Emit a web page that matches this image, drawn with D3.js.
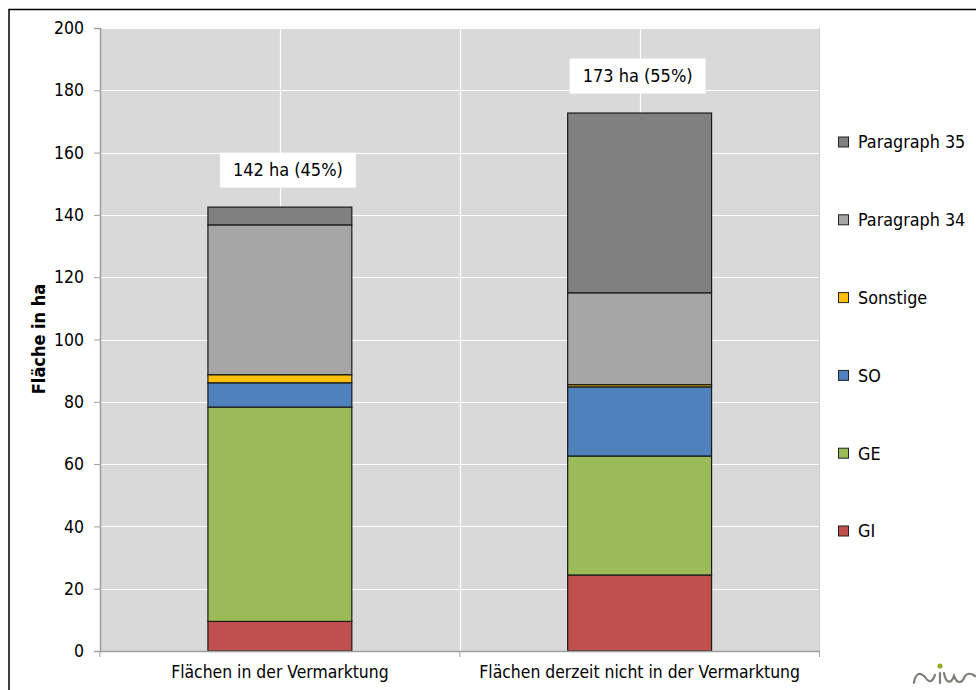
<!DOCTYPE html>
<html><head><meta charset="utf-8">
<script src="https://cdn.jsdelivr.net/npm/d3@7"></script>
<style>
html,body{margin:0;padding:0;background:#fff;}
svg{display:block;font-family:"DejaVu Sans Condensed","DejaVu Sans",sans-serif;}
</style></head>
<body><svg id="c" width="976" height="690"></svg>
<script>
const categories = ["Flächen in der Vermarktung", "Flächen derzeit nicht in der Vermarktung"];
const seriesNames = ["GI", "GE", "SO", "Sonstige", "Paragraph 34", "Paragraph 35"];
const seriesColors = ["#c0504d", "#9bbb59", "#4f81bd", "#ffc000", "#a6a6a6", "#808080"];
const GI = [9.5, 24.4];
const GE = [68.8, 38.2];
const SO = [7.8, 22.2];
const Sonstige = [2.6, 0.7];
const Paragraph34 = [48.1, 29.5];
const Paragraph35 = [5.7, 57.7];
const totalLabels = ["142 ha (45%)", "173 ha (55%)"];
const yTicks = [0, 20, 40, 60, 80, 100, 120, 140, 160, 180, 200];
const yTitle = "Fläche in ha";

const seriesValues = [GI, GE, SO, Sonstige, Paragraph34, Paragraph35];
const table = categories.map((c, i) => {
  const o = {cat: c};
  seriesNames.forEach((s, j) => o[s] = seriesValues[j][i]);
  return o;
});
const stacked = d3.stack().keys(seriesNames)(table);

const svg = d3.select("#c");
const L = 100, R = 819.5, T = 28, B = 651;

// outer frame
svg.append("rect").attr("x", 9).attr("y", 9.5).attr("width", 1100).attr("height", 1000)
  .attr("fill", "none").attr("stroke", "#000").attr("stroke-width", 1.5);

const x = d3.scaleBand().domain(categories).range([L, R]).paddingInner(0).paddingOuter(0);
const y = d3.scaleLinear().domain([0, 200]).range([B, T]);
const barW = x.bandwidth() * 0.4;

// plot area
svg.append("rect").attr("x", L).attr("y", T).attr("width", R - L).attr("height", B - T).attr("fill", "#d9d9d9");

// grid
const g = svg.append("g");
g.selectAll("line.h").data(yTicks.filter(d => d > 0)).join("line")
  .attr("x1", L).attr("x2", R).attr("y1", d => Math.round(y(d)) + 0.5).attr("y2", d => Math.round(y(d)) + 0.5)
  .attr("stroke", "#fff").attr("stroke-width", 1.2);
const vLines = [];
categories.forEach((c, i) => { vLines.push(x(c) + x.bandwidth() / 2); if (i > 0) vLines.push(x(c)); });
g.selectAll("line.v").data(vLines).join("line")
  .attr("x1", d => Math.round(d) + 0.5).attr("x2", d => Math.round(d) + 0.5).attr("y1", T).attr("y2", B)
  .attr("stroke", "#fff").attr("stroke-width", 1.2);
svg.append("line").attr("x1", R).attr("x2", R).attr("y1", T).attr("y2", B).attr("stroke", "#cfcfcf");

// bars
svg.append("g").selectAll("g").data(stacked).join("g")
  .attr("fill", (d, i) => seriesColors[i])
  .selectAll("rect").data(d => d).join("rect")
  .attr("x", d => x(d.data.cat) + (x.bandwidth() - barW) / 2)
  .attr("y", d => y(d[1]))
  .attr("width", barW)
  .attr("height", d => y(d[0]) - y(d[1]))
  .attr("stroke", "#1a1a1a").attr("stroke-width", 1.2);

// axes
const yAxis = d3.axisLeft(y).tickValues(yTicks).tickSize(6).tickPadding(10).tickFormat(d3.format("d"));
const ya = svg.append("g").attr("transform", `translate(${L},0)`).call(yAxis);
ya.select(".domain").attr("stroke", "#a0a0a0").attr("stroke-width", 1.5);
ya.selectAll(".tick line").attr("stroke", "#a0a0a0");
ya.selectAll(".tick text").attr("font-size", 17.5).attr("fill", "#000").attr("font-family", "DejaVu Sans Condensed");

const xa = svg.append("g").attr("transform", `translate(0,${B})`)
  .call(d3.axisBottom(x).tickSize(0).tickPadding(15));
xa.select(".domain").attr("stroke", "#a0a0a0").attr("stroke-width", 1.5);
xa.selectAll(".tick text").attr("font-size", 17.4).attr("fill", "#000").attr("font-family", "DejaVu Sans Condensed");
const bounds = categories.map(c => x(c)).concat([x(categories[categories.length - 1]) + x.bandwidth()]);
xa.selectAll("line.b").data(bounds).join("line").attr("class", "b")
  .attr("x1", d => d).attr("x2", d => d).attr("y1", 0).attr("y2", 6).attr("stroke", "#a0a0a0");

// y title
svg.append("text").attr("transform", `translate(45,339) rotate(-90)`)
  .attr("text-anchor", "middle").attr("font-weight", "bold").attr("font-size", 18)
  .text(yTitle);

// total labels
const labelOffsets = [8, -2];
const lab = svg.append("g").selectAll("g").data(categories).join("g")
  .attr("transform", (c, i) => {
    const top = y(d3.sum(seriesValues, s => s[i]));
    return `translate(${x(c) + x.bandwidth() / 2 + labelOffsets[i]},${top - 19.5 - 17.5})`;
  });
lab.append("rect").attr("x", -68).attr("y", -17.5).attr("width", 136).attr("height", 35).attr("fill", "#fff");
lab.append("text").attr("text-anchor", "middle").attr("dy", "0.35em").attr("font-size", 18)
  .text((c, i) => totalLabels[i]);

// legend
const legendOrder = seriesNames.slice().reverse();
const lg = svg.append("g").selectAll("g").data(legendOrder).join("g")
  .attr("transform", (d, i) => `translate(838,${142 + i * 77.8})`);
lg.append("rect").attr("x", 0.5).attr("y", -5).attr("width", 10).attr("height", 10)
  .attr("fill", d => seriesColors[seriesNames.indexOf(d)]).attr("stroke", "#222").attr("stroke-width", 1);
lg.append("text").attr("x", 20).attr("dy", "0.36em").attr("font-size", 17.8).text(d => d);

// logo
const logo = svg.append("g").attr("fill", "none").attr("stroke", "#7f7f77").attr("stroke-width", 2.2).attr("stroke-linecap", "round");
logo.append("path").attr("d", "M914,683 C915,674 920,671 925,677 C929,683 932,683 935,675");
logo.append("path").attr("d", "M940,673 L940,683");
logo.append("path").attr("d", "M944,673 C946,684 951,684 954,676 C957,684 962,684 965,676 C967,673 971,673 975,676");
svg.append("circle").attr("cx", 940).attr("cy", 666).attr("r", 2.6).attr("fill", "#9bab1f");
</script></body></html>
